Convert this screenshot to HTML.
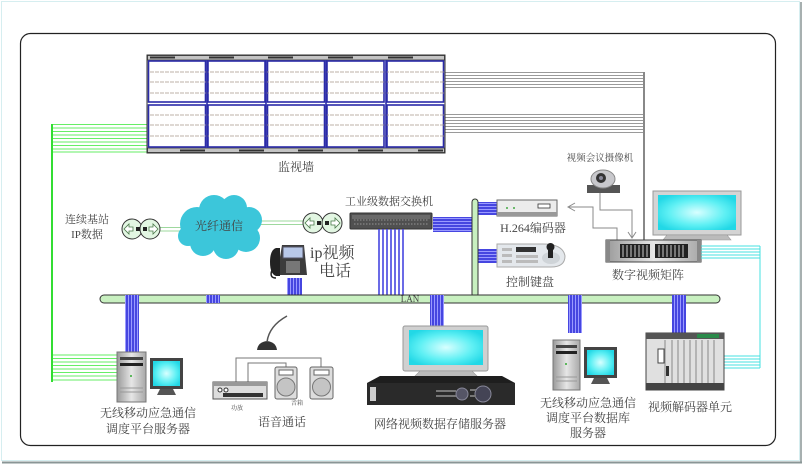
<!DOCTYPE html>
<html><head><meta charset="utf-8"><style>
html,body{margin:0;padding:0;background:#fff;}
svg{display:block;}
text{font-family:"Liberation Serif","Noto Serif CJK SC",serif;fill:#444;}
</style></head><body>
<svg width="803" height="465" viewBox="0 0 803 465" xmlns="http://www.w3.org/2000/svg">
<defs>
<pattern id="bv" width="3" height="4" patternUnits="userSpaceOnUse"><rect width="3" height="4" fill="#9a9aff"/><rect width="2" height="4" fill="#4646e0"/></pattern>
<pattern id="bh" width="4" height="3" patternUnits="userSpaceOnUse"><rect width="4" height="3" fill="#9a9aff"/><rect width="4" height="2" fill="#4646e0"/></pattern>
<radialGradient id="scr" cx="50%" cy="50%" r="60%"><stop offset="0" stop-color="#d8ffff"/><stop offset="0.6" stop-color="#5ff0f4"/><stop offset="1" stop-color="#22d8e6"/></radialGradient>
<linearGradient id="gry" x1="0" y1="0" x2="1" y2="0"><stop offset="0" stop-color="#9a9a9a"/><stop offset="0.5" stop-color="#e6e6e6"/><stop offset="1" stop-color="#a8a8a8"/></linearGradient>
</defs>

<!-- outer border -->
<rect x="1.5" y="1.5" width="798" height="459" fill="none" stroke="#d6eef0" stroke-width="1"/>
<line x1="2" y1="462.5" x2="802" y2="462.5" stroke="#8a9696" stroke-width="2"/>
<line x1="801" y1="2" x2="801" y2="463" stroke="#8a9696" stroke-width="1.5"/>

<!-- main frame -->
<rect x="20.5" y="33.5" width="755" height="412" rx="10" fill="none" stroke="#222" stroke-width="1.2"/>

<!-- green lines -->
<g stroke="#66ee66" stroke-width="1">
<line x1="52" y1="124.5" x2="147" y2="124.5"/><line x1="52" y1="128" x2="147" y2="128"/><line x1="52" y1="131.5" x2="147" y2="131.5"/><line x1="52" y1="135" x2="147" y2="135"/><line x1="52" y1="138.5" x2="147" y2="138.5"/><line x1="52" y1="142" x2="147" y2="142"/><line x1="52" y1="145.5" x2="147" y2="145.5"/><line x1="52" y1="149" x2="147" y2="149"/><line x1="52" y1="152" x2="147" y2="152"/>
<line x1="52" y1="355" x2="117" y2="355"/><line x1="52" y1="358.5" x2="117" y2="358.5"/><line x1="52" y1="362" x2="117" y2="362"/><line x1="52" y1="365.5" x2="117" y2="365.5"/><line x1="52" y1="369" x2="117" y2="369"/><line x1="52" y1="372.5" x2="117" y2="372.5"/><line x1="52" y1="376" x2="117" y2="376"/><line x1="52" y1="380" x2="117" y2="380"/>
</g>
<line x1="52" y1="124" x2="52" y2="382" stroke="#33dd33" stroke-width="2"/>

<!-- gray lines to matrix -->
<g stroke="#9a9a9a" stroke-width="1">
<line x1="445" y1="72.5" x2="644" y2="72.5"/><line x1="445" y1="75.5" x2="644" y2="75.5"/><line x1="445" y1="78.5" x2="644" y2="78.5"/><line x1="445" y1="81.5" x2="644" y2="81.5"/><line x1="445" y1="84.5" x2="644" y2="84.5"/><line x1="445" y1="87.5" x2="644" y2="87.5"/>
<line x1="445" y1="114.5" x2="644" y2="114.5"/><line x1="445" y1="117.5" x2="644" y2="117.5"/><line x1="445" y1="120.5" x2="644" y2="120.5"/><line x1="445" y1="123.5" x2="644" y2="123.5"/><line x1="445" y1="126.5" x2="644" y2="126.5"/><line x1="445" y1="129.5" x2="644" y2="129.5"/><line x1="445" y1="132.5" x2="644" y2="132.5"/>
</g>
<line x1="644" y1="72" x2="644" y2="240" stroke="#888" stroke-width="2"/>

<!-- video wall -->
<g>
<rect x="147" y="55" width="298" height="98" fill="#fff" stroke="#333" stroke-width="1"/>
<rect x="147.5" y="55.5" width="297" height="4.5" fill="#c4c4c4" stroke="#333" stroke-width="0.8"/>
<rect x="147.5" y="148" width="297" height="4.5" fill="#c4c4c4" stroke="#333" stroke-width="0.8"/>
<g fill="#333">
<rect x="150" y="56.5" width="25" height="2"/><rect x="209" y="56.5" width="25" height="2"/><rect x="268" y="56.5" width="25" height="2"/><rect x="328" y="56.5" width="25" height="2"/><rect x="388" y="56.5" width="25" height="2"/>
<rect x="180" y="149.5" width="25" height="2"/><rect x="239" y="149.5" width="25" height="2"/><rect x="298" y="149.5" width="25" height="2"/><rect x="358" y="149.5" width="25" height="2"/><rect x="418" y="149.5" width="25" height="2"/>
</g>
<g fill="#fff" stroke="#2b2ba8" stroke-width="1.6">
<rect x="148.5" y="61" width="57" height="41"/><rect x="208" y="61" width="57" height="41"/><rect x="267.5" y="61" width="57" height="41"/><rect x="327" y="61" width="57" height="41"/><rect x="387" y="61" width="56.5" height="41"/>
<rect x="148.5" y="105" width="57" height="42"/><rect x="208" y="105" width="57" height="42"/><rect x="267.5" y="105" width="57" height="42"/><rect x="327" y="105" width="57" height="42"/><rect x="387" y="105" width="56.5" height="42"/>
</g>
<g stroke="#a8988a" stroke-width="0.8" stroke-dasharray="4,1">
<line x1="150" y1="72" x2="444" y2="72"/><line x1="150" y1="82" x2="444" y2="82"/><line x1="150" y1="93" x2="444" y2="93"/>
<line x1="150" y1="115" x2="444" y2="115"/><line x1="150" y1="125" x2="444" y2="125"/><line x1="150" y1="136" x2="444" y2="136"/>
</g>
<g stroke="#2b2ba8" stroke-width="1.6"><line x1="207" y1="60" x2="207" y2="148"/><line x1="266" y1="60" x2="266" y2="148"/><line x1="326" y1="60" x2="326" y2="148"/><line x1="386" y1="60" x2="386" y2="148"/></g>
</g>
<text x="296" y="171" font-size="12" text-anchor="middle">监视墙</text>

<!-- left labels -->
<text x="87" y="223" font-size="11" text-anchor="middle" fill="#333">连续基站</text>
<text x="87" y="238" font-size="11" text-anchor="middle" fill="#333">IP数据</text>

<!-- links -->
<g stroke="#9ed89e" stroke-width="1"><line x1="158" y1="227.5" x2="182" y2="227.5"/><line x1="158" y1="231" x2="182" y2="231"/>
<line x1="258" y1="221" x2="305" y2="221"/><line x1="258" y1="224.5" x2="305" y2="224.5"/></g>

<!-- routers -->
<g stroke="#333" stroke-width="1" fill="#e2f6e2">
<circle cx="132" cy="229" r="10"/><circle cx="150" cy="229" r="10"/>
<circle cx="313" cy="223" r="10"/><circle cx="332" cy="223" r="10"/>
</g>
<g fill="#fff" stroke="#4a7a4a" stroke-width="0.8">
<path d="M124 229 l5 -5 v3 h4 v4 h-4 v3z"/><path d="M158 229 l-5 -5 v3 h-4 v4 h4 v3z"/>
<path d="M305 223 l5 -5 v3 h4 v4 h-4 v3z"/><path d="M340 223 l-5 -5 v3 h-4 v4 h4 v3z"/>
</g>
<g fill="#222"><rect x="136" y="227" width="4" height="4"/><rect x="143" y="227" width="4" height="4"/><rect x="317" y="221" width="4" height="4"/><rect x="325" y="221" width="4" height="4"/></g>

<!-- cloud -->
<g fill="#3cc6da">
<circle cx="197" cy="224" r="17"/><circle cx="214" cy="210" r="15"/><circle cx="234" cy="208" r="13"/><circle cx="249" cy="220" r="13"/><circle cx="246" cy="238" r="14"/><circle cx="226" cy="246" r="13"/><circle cx="203" cy="243" r="13"/><circle cx="220" cy="228" r="22"/><circle cx="188" cy="236" r="10"/>
</g>
<text x="219" y="230" font-size="12" text-anchor="middle" fill="#2a3a7a">光纤通信</text>

<!-- ip phone -->
<g>
<path d="M282 245 h22 l3 30 h-30 z" fill="#3c3c3c"/>
<rect x="283" y="247" width="20" height="11" fill="#b8c8e8" stroke="#556"/>
<rect x="286" y="261" width="14" height="12" fill="#777"/>
<path d="M276 248 q-6 2 -6 14 q0 12 6 14 h4 v-28z" fill="#222"/>
<path d="M272 270 q-3 8 4 8" fill="none" stroke="#222" stroke-width="1.5"/>
</g>
<text x="310" y="258" font-size="16" fill="#333">ip视频</text>
<text x="319" y="276" font-size="16" fill="#333">电话</text>
<rect x="287" y="278" width="15" height="18" fill="url(#bv)"/>

<!-- switch -->
<text x="389" y="205" font-size="11" text-anchor="middle" fill="#333">工业级数据交换机</text>
<rect x="350" y="213" width="82" height="16" rx="1" fill="#505050" stroke="#333"/>
<rect x="352" y="215" width="78" height="4" fill="#6a6a6a"/>
<g stroke="#aaa" stroke-width="0.8" stroke-dasharray="1.5,1.5"><line x1="354" y1="220" x2="428" y2="220"/><line x1="354" y1="224" x2="428" y2="224"/></g>
<g stroke="#4646e0" stroke-width="1.6">
<line x1="379" y1="229" x2="379" y2="295"/><line x1="383" y1="229" x2="383" y2="295"/><line x1="387" y1="229" x2="387" y2="295"/><line x1="391" y1="229" x2="391" y2="295"/><line x1="395" y1="229" x2="395" y2="295"/><line x1="399" y1="229" x2="399" y2="295"/><line x1="403" y1="229" x2="403" y2="295"/>
</g>
<rect x="433" y="217" width="40" height="15" fill="url(#bh)"/>
<rect x="478" y="202" width="19" height="13" fill="url(#bh)"/>
<rect x="478" y="249" width="19" height="14" fill="url(#bh)"/>

<!-- vertical bus -->
<rect x="472" y="199" width="6" height="98" rx="3" fill="#c8f0c0" stroke="#333" stroke-width="1"/>

<!-- encoder -->
<rect x="497" y="200" width="60" height="16" fill="#ececec" stroke="#666"/>
<rect x="497" y="212" width="60" height="4" fill="#999"/>
<rect x="538" y="204" width="12" height="4" fill="#fff" stroke="#333" stroke-width="0.8"/>
<circle cx="507" cy="208" r="1" fill="#4a4"/><circle cx="514" cy="208" r="1" fill="#4a4"/>
<text x="533" y="232" font-size="12" text-anchor="middle" fill="#333">H.264编码器</text>

<!-- keyboard -->
<path d="M497 244 h46 q20 0 22 12 q0 11 -14 11 h-54z" fill="#e4e8ec" stroke="#aaa"/>
<rect x="516" y="247" width="20" height="5" fill="#333"/>
<g fill="#bbb"><rect x="502" y="248" width="10" height="3"/><rect x="502" y="254" width="10" height="3"/><rect x="502" y="260" width="10" height="3"/><rect x="516" y="255" width="22" height="3"/><rect x="516" y="260" width="22" height="3"/></g>
<ellipse cx="551" cy="258" rx="9" ry="6" fill="#cfd4d8"/>
<rect x="548" y="248" width="5" height="10" fill="#222"/><circle cx="550.5" cy="247" r="4" fill="#222"/>
<text x="530" y="286" font-size="12" text-anchor="middle" fill="#333">控制键盘</text>

<!-- camera -->
<text x="600" y="161" font-size="9.5" text-anchor="middle" fill="#333">视频会议摄像机</text>
<rect x="587" y="185" width="33" height="8" fill="#555"/>
<ellipse cx="603" cy="179" rx="12" ry="9" fill="#c8c8cc" stroke="#888"/>
<circle cx="601" cy="178" r="5" fill="#333"/><circle cx="601" cy="178" r="2" fill="#889"/>

<!-- gray arrows -->
<g fill="none" stroke="#8a8a8a" stroke-width="1">
<path d="M600 193 V210 H632 V237"/><path d="M628 232 L632 238 L636 232"/>
<path d="M617 240 V228 H593 V207 H569"/><path d="M575 203 L568 207 L575 211"/>
</g>

<!-- monitor right -->
<rect x="653" y="191" width="88" height="44" fill="#d4d4d4" stroke="#999"/>
<rect x="658" y="195" width="78" height="35" fill="url(#scr)"/>
<path d="M667 235 h60 l4 5 h-68z" fill="#bbb" stroke="#999" stroke-width="0.6"/>

<!-- matrix -->
<rect x="606" y="240" width="95" height="22" fill="url(#gry)" stroke="#444"/>
<rect x="606" y="240" width="4" height="22" fill="#888"/><rect x="697" y="240" width="4" height="22" fill="#888"/>
<g fill="#222"><rect x="620" y="244" width="30" height="14"/><rect x="655" y="244" width="33" height="14"/></g>
<g stroke="#ccc" stroke-width="1"><line x1="623" y1="245" x2="623" y2="257"/><line x1="627" y1="245" x2="627" y2="257"/><line x1="631" y1="245" x2="631" y2="257"/><line x1="635" y1="245" x2="635" y2="257"/><line x1="639" y1="245" x2="639" y2="257"/><line x1="643" y1="245" x2="643" y2="257"/><line x1="647" y1="245" x2="647" y2="257"/><line x1="659" y1="245" x2="659" y2="257"/><line x1="663" y1="245" x2="663" y2="257"/><line x1="667" y1="245" x2="667" y2="257"/><line x1="671" y1="245" x2="671" y2="257"/><line x1="675" y1="245" x2="675" y2="257"/><line x1="679" y1="245" x2="679" y2="257"/><line x1="683" y1="245" x2="683" y2="257"/></g>
<text x="648" y="279" font-size="12" text-anchor="middle" fill="#333">数字视频矩阵</text>

<!-- cyan lines -->
<g stroke="#44e0e0" stroke-width="1">
<line x1="701" y1="246" x2="760" y2="246"/><line x1="701" y1="249" x2="760" y2="249"/><line x1="701" y1="252" x2="760" y2="252"/><line x1="701" y1="255" x2="760" y2="255"/><line x1="701" y1="258" x2="760" y2="258"/>
<line x1="720" y1="356" x2="760" y2="356"/><line x1="720" y1="359" x2="760" y2="359"/><line x1="720" y1="362" x2="760" y2="362"/><line x1="720" y1="365" x2="760" y2="365"/><line x1="720" y1="368" x2="760" y2="368"/>
<line x1="760" y1="246" x2="760" y2="368"/>
</g>

<!-- LAN bus -->
<rect x="100" y="295" width="620" height="8" rx="4" fill="#c8f0c0" stroke="#333" stroke-width="1"/>
<text x="410" y="302" font-size="9" text-anchor="middle" fill="#333">LAN</text>
<rect x="206" y="295" width="14" height="8" fill="url(#bv)"/>
<rect x="125" y="295" width="14" height="57" fill="url(#bv)"/>
<rect x="430" y="295" width="14" height="32" fill="url(#bv)"/>
<rect x="568" y="295" width="14" height="38" fill="url(#bv)"/>
<rect x="672" y="295" width="14" height="39" fill="url(#bv)"/>

<!-- bottom-left server -->
<rect x="117" y="352" width="29" height="50" fill="url(#gry)" stroke="#777"/>
<rect x="120" y="357" width="23" height="3" fill="#444"/><rect x="120" y="363" width="23" height="3" fill="#222"/>
<circle cx="131" cy="376" r="1" fill="#3a3"/>
<g stroke="#999"><line x1="120" y1="388" x2="143" y2="388"/><line x1="120" y1="392" x2="143" y2="392"/></g>
<rect x="150" y="358" width="33" height="31" fill="#444"/>
<rect x="153" y="361" width="27" height="25" fill="url(#scr)"/>
<path d="M160 389 h13 l3 6 h-19z" fill="#555"/>
<text x="148" y="417" font-size="12" text-anchor="middle">无线移动应急通信</text>
<text x="148" y="433" font-size="12" text-anchor="middle">调度平台服务器</text>

<!-- voice -->
<path d="M257 350 q1 -8 10 -9 q9 1 10 9z" fill="#333"/>
<path d="M267 342 q2 -16 20 -26" fill="none" stroke="#555" stroke-width="1.5"/>
<g fill="none" stroke="#777" stroke-width="1">
<path d="M236 382 V358 H321 V367"/><path d="M248 382 V363 H286 V367"/>
</g>
<rect x="213" y="382" width="54" height="17" fill="#ddd" stroke="#555"/>
<rect x="213" y="382" width="54" height="4" fill="#999"/>
<circle cx="220" cy="390" r="2" fill="#fff" stroke="#333"/><circle cx="226" cy="390" r="2" fill="#fff" stroke="#333"/>
<rect x="223" y="393" width="40" height="4" fill="#333"/>
<rect x="275" y="367" width="22" height="32" rx="2" fill="#ddd" stroke="#666"/>
<rect x="279" y="370" width="14" height="5" fill="#fff" stroke="#666"/>
<circle cx="286" cy="387" r="9" fill="#c4c4c4" stroke="#777"/>
<rect x="310" y="367" width="23" height="32" rx="2" fill="#ddd" stroke="#666"/>
<rect x="314" y="370" width="15" height="5" fill="#fff" stroke="#666"/>
<circle cx="321.5" cy="387" r="9" fill="#c4c4c4" stroke="#777"/>
<text x="237" y="410" font-size="6" text-anchor="middle">功放</text>
<text x="297" y="405" font-size="6" text-anchor="middle">音箱</text>
<text x="282" y="426" font-size="12" text-anchor="middle">语音通话</text>

<!-- NVR -->
<rect x="403" y="326" width="85" height="45" rx="2" fill="#d0d0d0" stroke="#999"/>
<rect x="409" y="330" width="74" height="35" fill="url(#scr)"/>
<path d="M420 371 h52 l6 6 h-64z" fill="#bbb" stroke="#999" stroke-width="0.6"/>
<path d="M380 376 h122 l13 7 v22 h-148 v-22z" fill="#1e1e1e"/>
<rect x="367" y="383" width="148" height="22" fill="#2a2a2a"/>
<rect x="370" y="387" width="6" height="14" fill="#ccc"/>
<circle cx="462" cy="394" r="6" fill="#556" stroke="#889"/><circle cx="483" cy="394" r="8" fill="#445" stroke="#889"/>
<g fill="#777"><rect x="436" y="390" width="20" height="2"/><rect x="436" y="395" width="20" height="2"/><rect x="470" y="389" width="6" height="2"/><rect x="470" y="395" width="6" height="2"/></g>
<text x="440" y="428" font-size="12" text-anchor="middle">网络视频数据存储服务器</text>

<!-- right server -->
<rect x="553" y="340" width="27" height="50" fill="url(#gry)" stroke="#777"/>
<rect x="556" y="345" width="21" height="3" fill="#444"/><rect x="556" y="351" width="21" height="3" fill="#222"/>
<circle cx="566" cy="364" r="1" fill="#3a3"/>
<g stroke="#999"><line x1="556" y1="377" x2="577" y2="377"/><line x1="556" y1="381" x2="577" y2="381"/></g>
<rect x="584" y="347" width="33" height="31" fill="#444"/>
<rect x="587" y="350" width="27" height="25" fill="url(#scr)"/>
<path d="M594 378 h13 l3 6 h-19z" fill="#555"/>
<text x="588" y="407" font-size="12" text-anchor="middle">无线移动应急通信</text>
<text x="588" y="422" font-size="12" text-anchor="middle">调度平台数据库</text>
<text x="588" y="437" font-size="12" text-anchor="middle">服务器</text>

<!-- decoder -->
<rect x="646" y="333" width="78" height="57" fill="#e0e0e0" stroke="#444"/>
<rect x="646" y="333" width="78" height="6" fill="#555"/>
<rect x="697" y="334" width="22" height="4" fill="#2a8a4a"/>
<rect x="646" y="383" width="78" height="7" fill="#444"/>
<g stroke="#888" stroke-width="1"><line x1="665" y1="340" x2="665" y2="383"/><line x1="672" y1="340" x2="672" y2="383"/><line x1="678" y1="340" x2="678" y2="383"/><line x1="684" y1="340" x2="684" y2="383"/><line x1="690" y1="340" x2="690" y2="383"/><line x1="696" y1="340" x2="696" y2="383"/><line x1="702" y1="340" x2="702" y2="383"/><line x1="708" y1="340" x2="708" y2="383"/><line x1="714" y1="340" x2="714" y2="383"/></g>
<rect x="658" y="349" width="6" height="14" fill="#fff" stroke="#444"/>
<rect x="666" y="366" width="3" height="10" fill="#333"/>
<text x="690" y="411" font-size="12" text-anchor="middle">视频解码器单元</text>
</svg>
</body></html>
